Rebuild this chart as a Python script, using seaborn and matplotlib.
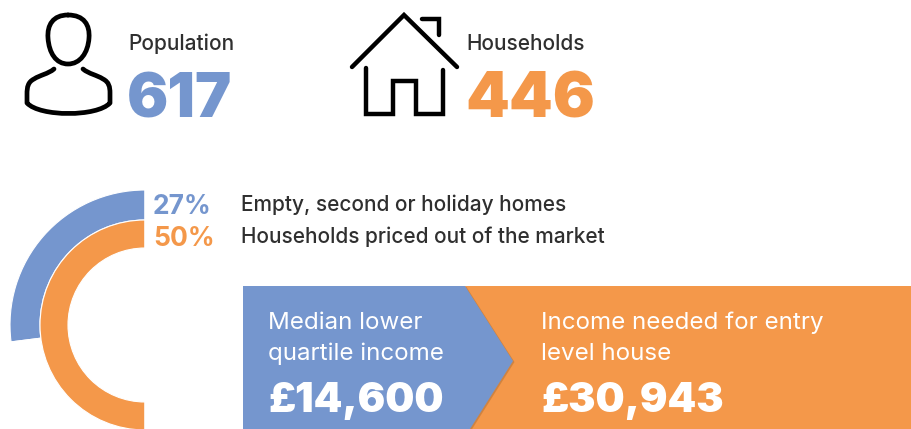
import matplotlib
matplotlib.use('Agg')
import matplotlib.pyplot as plt
from matplotlib.patches import PathPatch, Polygon, Rectangle
from matplotlib.path import Path
import seaborn as sns

stat_labels = ['Population', 'Households']
stat_values = ['617', '446']
pct_values = [27, 50]
pct_labels = ['Empty, second or holiday homes', 'Households priced out of the market']
box_labels = ['Median lower\nquartile income', 'Income needed for entry\nlevel house']
box_values = ['£14,600', '£30,943']

BLUE = '#7596CE'
ORANGE = '#F4984A'
DARK = '#2F2F2F'
W, H = 911, 429

sns.set_theme(style='white')
plt.rcParams['font.family'] = ['Inter', 'Lato', 'DejaVu Sans']

fig = plt.figure(figsize=(W / 100, H / 100), dpi=100)
ax = fig.add_axes([0, 0, 1, 1])


def fy(y):
    # picture pixels count from the top
    return H - y


def curve(points, codes, lw=3.4):
    verts = [(x, fy(y)) for x, y in points]
    ax.add_patch(PathPatch(Path(verts, codes), fc='none', ec='black', lw=lw,
                           capstyle='round', joinstyle='round', zorder=3))


def line(xs, ys, lw=3.2):
    ax.plot(xs, [fy(y) for y in ys], color='black', lw=lw,
            solid_capstyle='round', solid_joinstyle='miter')


# donut rings
for val, col, rad, wid in zip(pct_values, [BLUE, ORANGE], [135, 105], [30, 28]):
    ax.pie([val, 100 - val], colors=[col, 'none'], startangle=90, counterclock=True,
           center=(145, fy(325)), radius=rad, frame=True,
           wedgeprops=dict(width=wid, edgecolor='white', linewidth=0.8))

# person icon
M, C = Path.MOVETO, Path.CURVE4
curve([(68, 15), (84, 15), (90, 25), (89, 38), (88, 53), (80, 64), (68, 64),
       (56, 64), (49, 53), (48, 38), (47, 25), (53, 15), (68, 15)],
      [M] + [C] * 12)
curve([(54, 69), (48, 74), (40, 75), (34, 79), (28, 82), (27, 87), (27, 94),
       (27, 97), (27, 100), (27, 103), (40, 117), (97, 117), (110, 103),
       (110, 100), (110, 97), (110, 93), (110, 87), (109, 82), (103, 79),
       (97, 75), (89, 74), (83, 69)],
      [M] + [C] * 21)

# house icon
line([352, 404, 457], [67, 15, 67])
line([422, 439, 439], [19, 19, 35])
line([366, 366, 393, 393, 416, 416, 443, 443], [68, 114, 114, 81, 81, 114, 114, 70])

# headline numbers
for lab, val, col, x, size in zip(stat_labels, stat_values, [BLUE, ORANGE], [128, 466], [44, 45]):
    ax.text(x, fy(50), lab, fontsize=15, color=DARK, weight='medium', va='baseline')
    ax.text(x - 1, fy(118), val, fontsize=size, color=col, weight='black', va='baseline')

# percent rows
for val, lab, col, y in zip(pct_values, pct_labels, [BLUE, ORANGE], [214, 246]):
    ax.text(153, fy(y), f'{val}%', fontsize=19, color=col, weight='bold', va='baseline')
    ax.text(241, fy(y - 3), lab, fontsize=15, color=DARK, weight='medium', va='baseline')

# income boxes
ax.add_patch(Rectangle((465, 0), W - 465, fy(286), fc=ORANGE, ec='none', zorder=1))
arrow = [(243, fy(286)), (465, fy(286)), (513, fy(361)), (470, fy(429)), (243, fy(429))]
ax.add_patch(Polygon([(x + 1.5, y - 1) for x, y in arrow], fc='#B9763A', ec='none', alpha=0.6, zorder=2))
ax.add_patch(Polygon(arrow, fc=BLUE, ec='none', zorder=2))

for lab, val, x in zip(box_labels, box_values, [268, 541]):
    ax.text(x, fy(329), lab.split('\n')[0], fontsize=17.4, color='white', va='baseline', zorder=4)
    ax.text(x, fy(360), lab.split('\n')[1], fontsize=17.4, color='white', va='baseline', zorder=4)
    ax.text(x, fy(412), val, fontsize=29.5, color='white', weight='black', va='baseline', zorder=4)

ax.set_xlim(0, W)
ax.set_ylim(0, H)
ax.axis('off')
fig.savefig('out.png', dpi=100)
